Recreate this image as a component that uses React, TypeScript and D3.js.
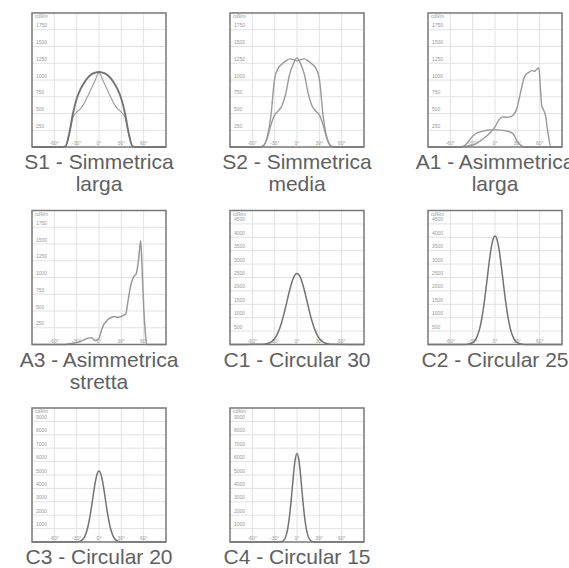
import React from "react";
import * as d3 from "d3";

// beam angle categories (degrees)
const angles5 = [-90, -85, -80, -75, -70, -65, -60, -55, -50, -45, -40, -35, -30, -25, -20, -15, -10, -5, 0, 5, 10, 15, 20, 25, 30, 35, 40, 45, 50, 55, 60, 65, 70, 75, 80, 85, 90];
const anglesC = [-90, -45, -42.5, -40, -37.5, -35, -32.5, -30, -27.5, -25, -22.5, -20, -17.5, -15, -12.5, -10, -7.5, -5, -2.5, 0, 2.5, 5, 7.5, 10, 12.5, 15, 17.5, 20, 22.5, 25, 27.5, 30, 32.5, 35, 37.5, 40, 42.5, 45, 90];
const a1Angles = [-90, -50, -45, -40, -35, -30, -25, -20, -15, -10, -5, 0, 5, 10, 15, 20, 25, 30, 35, 40, 45, 50, 53, 56, 59, 61, 63, 65, 68, 70, 72, 75, 90];
const a3Angles = [-90, -45, -40, -35, -30, -25, -20, -15, -10, -5, 0, 3, 6, 9, 13, 16, 20, 24, 28, 32, 36, 39, 42, 46, 50, 53, 56, 58, 60, 62, 64, 90];

// cd/klm values
const s1Wide = [0, 0, 0, 0, 0, 0, 0, 0, 0, 10, 200, 500, 720, 860, 960, 1035, 1085, 1110, 1120, 1110, 1085, 1035, 960, 860, 720, 500, 200, 10, 0, 0, 0, 0, 0, 0, 0, 0, 0];
const s1Narrow = [0, 0, 0, 0, 0, 0, 0, 0, 0, 10, 190, 440, 520, 570, 650, 760, 880, 1000, 1110, 1000, 880, 760, 650, 570, 520, 440, 190, 10, 0, 0, 0, 0, 0, 0, 0, 0, 0];
const s2Wide = [0, 0, 0, 0, 0, 0, 0, 0, 0, 20, 150, 470, 1020, 1180, 1240, 1285, 1315, 1305, 1285, 1305, 1315, 1285, 1240, 1180, 1020, 470, 150, 20, 0, 0, 0, 0, 0, 0, 0, 0, 0];
const s2Narrow = [0, 0, 0, 0, 0, 0, 0, 0, 0, 20, 130, 330, 480, 540, 620, 800, 1080, 1240, 1330, 1240, 1080, 800, 620, 540, 480, 330, 130, 20, 0, 0, 0, 0, 0, 0, 0, 0, 0];
const a1Small = [0, 0, 0, 0, 0, 0, 0, 0, 0, 0, 30, 90, 160, 205, 225, 240, 250, 255, 255, 252, 248, 240, 225, 190, 80, 20, 0, 0, 0, 0, 0, 0, 0, 0, 0, 0, 0];
const a1Big = [0, 0, 5, 10, 20, 30, 50, 90, 130, 175, 230, 300, 400, 450, 445, 450, 480, 600, 850, 1060, 1110, 1140, 1130, 1160, 1180, 880, 600, 560, 460, 300, 150, 0, 0];
const a3Values = [0, 0, 10, 20, 30, 45, 70, 95, 100, 60, 90, 200, 290, 335, 385, 400, 418, 405, 410, 430, 460, 650, 850, 1000, 1055, 1250, 1550, 1100, 560, 210, 0, 0];
const c1Values = [0, 10, 20, 35, 55, 90, 145, 225, 335, 480, 660, 885, 1145, 1430, 1725, 2015, 2270, 2475, 2605, 2650, 2605, 2475, 2270, 2015, 1725, 1430, 1145, 885, 660, 480, 335, 225, 145, 90, 55, 35, 20, 10, 0];
const c2Values = [0, 0, 0, 3, 7, 15, 35, 70, 130, 240, 410, 660, 1010, 1460, 1990, 2570, 3140, 3620, 3940, 4050, 3940, 3620, 3140, 2570, 1990, 1460, 1010, 660, 410, 240, 130, 70, 35, 15, 7, 3, 0, 0, 0];
const c3Values = [0, 0, 0, 0, 0, 0, 0, 10, 30, 70, 160, 330, 640, 1120, 1800, 2650, 3590, 4460, 5080, 5300, 5080, 4460, 3590, 2650, 1800, 1120, 640, 330, 160, 70, 30, 10, 0, 0, 0, 0, 0, 0, 0];
const c4Values = [0, 0, 0, 0, 0, 0, 0, 0, 0, 0, 15, 50, 160, 420, 980, 1950, 3320, 4860, 6120, 6600, 6120, 4860, 3320, 1950, 980, 420, 160, 50, 15, 0, 0, 0, 0, 0, 0, 0, 0, 0, 0];

// axis ticks
const xTicks = [-60, -30, 0, 30, 60];
const yTicksLow = [250, 500, 750, 1000, 1250, 1500, 1750];
const yTicksMid = [500, 1000, 1500, 2000, 2500, 3000, 3500, 4000, 4500];
const yTicksHigh = [1000, 2000, 3000, 4000, 5000, 6000, 7000, 8000, 9000];

const captions = [
  ["S1 - Simmetrica", "larga"],
  ["S2 - Simmetrica", "media"],
  ["A1 - Asimmetrica", "larga"],
  ["A3 - Asimmetrica", "stretta"],
  ["C1 - Circular 30"],
  ["C2 - Circular 25"],
  ["C3 - Circular 20"],
  ["C4 - Circular 15"],
];

const thick = { color: "#737373", width: 1.9 };
const thin = { color: "#999", width: 1.1 };

const panels = [
  { yMax: 2000, yTicks: yTicksLow, series: [{ a: angles5, v: s1Narrow, ...thin }, { a: angles5, v: s1Wide, ...thick }] },
  { yMax: 2000, yTicks: yTicksLow, series: [{ a: angles5, v: s2Narrow, ...thin, width: 1.4 }, { a: angles5, v: s2Wide, ...thin, width: 1.4 }] },
  { yMax: 2000, yTicks: yTicksLow, series: [{ a: angles5, v: a1Small, ...thin, width: 1.4 }, { a: a1Angles, v: a1Big, ...thin, width: 1.4 }] },
  { yMax: 2000, yTicks: yTicksLow, series: [{ a: a3Angles, v: a3Values, ...thin, width: 1.5 }] },
  { yMax: 5000, yTicks: yTicksMid, series: [{ a: anglesC, v: c1Values, ...thick, width: 1.5 }] },
  { yMax: 5000, yTicks: yTicksMid, series: [{ a: anglesC, v: c2Values, ...thick, width: 1.5 }] },
  { yMax: 10000, yTicks: yTicksHigh, series: [{ a: anglesC, v: c3Values, ...thick, width: 1.5 }] },
  { yMax: 10000, yTicks: yTicksHigh, series: [{ a: anglesC, v: c4Values, ...thick, width: 1.5 }] },
];

const SIZE = 134;

function Panel({ index }) {
  const p = panels[index];
  const col = index % 3;
  const row = Math.floor(index / 3);
  const x0 = 32 + col * 198;
  const y0 = 13 + row * 197.5;

  const xScale = d3.scaleLinear().domain([-90, 90]).range([x0, x0 + SIZE]);
  const yScale = d3.scaleLinear().domain([0, p.yMax]).range([y0 + SIZE, y0]);

  const line = d3
    .line<[number, number]>()
    .x((d) => xScale(d[0]))
    .y((d) => yScale(d[1]))
    .curve(d3.curveMonotoneX);

  const small = { fontSize: 5, fill: "#999", fontFamily: "Liberation Sans, Arial, sans-serif" };

  return (
    <g>
      <rect x={x0} y={y0} width={SIZE} height={SIZE} fill="#fff" />
      {p.yTicks.map((t) => (
        <line key={"h" + t} x1={x0} x2={x0 + SIZE} y1={yScale(t)} y2={yScale(t)} stroke="#e2e2e2" strokeWidth={1} />
      ))}
      {xTicks.map((t) => (
        <line key={"v" + t} x1={xScale(t)} x2={xScale(t)} y1={y0} y2={y0 + SIZE} stroke="#e2e2e2" strokeWidth={1} />
      ))}
      {p.yTicks.map((t) => (
        <text key={"yl" + t} x={x0 + 4} y={yScale(t) - 2.5} {...small}>
          {t}
        </text>
      ))}
      <text x={x0 + 3} y={y0 + 5} {...small} fontSize={4.5}>
        cd/klm
      </text>
      {xTicks.map((t) => (
        <text key={"xl" + t} x={xScale(t)} y={y0 + SIZE - 2} textAnchor="middle" {...small}>
          {t + "°"}
        </text>
      ))}
      {p.series.map((s, i) => (
        <path
          key={i}
          d={line(s.a.map((a, k) => [a, s.v[k]] as [number, number])) || ""}
          fill="none"
          stroke={s.color}
          strokeWidth={s.width}
          strokeLinejoin="round"
        />
      ))}
      <rect x={x0} y={y0} width={SIZE} height={SIZE} fill="none" stroke="#777" strokeWidth={1.5} />
      {captions[index].map((c, i) => (
        <text
          key={c}
          x={x0 + SIZE / 2}
          y={y0 + SIZE + 22 + i * 22}
          textAnchor="middle"
          fontSize={21}
          fill="#606060"
          fontFamily="Liberation Sans, Arial, sans-serif"
        >
          {c}
        </text>
      ))}
    </g>
  );
}

export default function App() {
  return (
    <svg
      width={569}
      height={568}
      style={{ position: "absolute", left: 0, top: 0, background: "#fff" }}
    >
      {panels.map((_, i) => (
        <Panel key={i} index={i} />
      ))}
    </svg>
  );
}
